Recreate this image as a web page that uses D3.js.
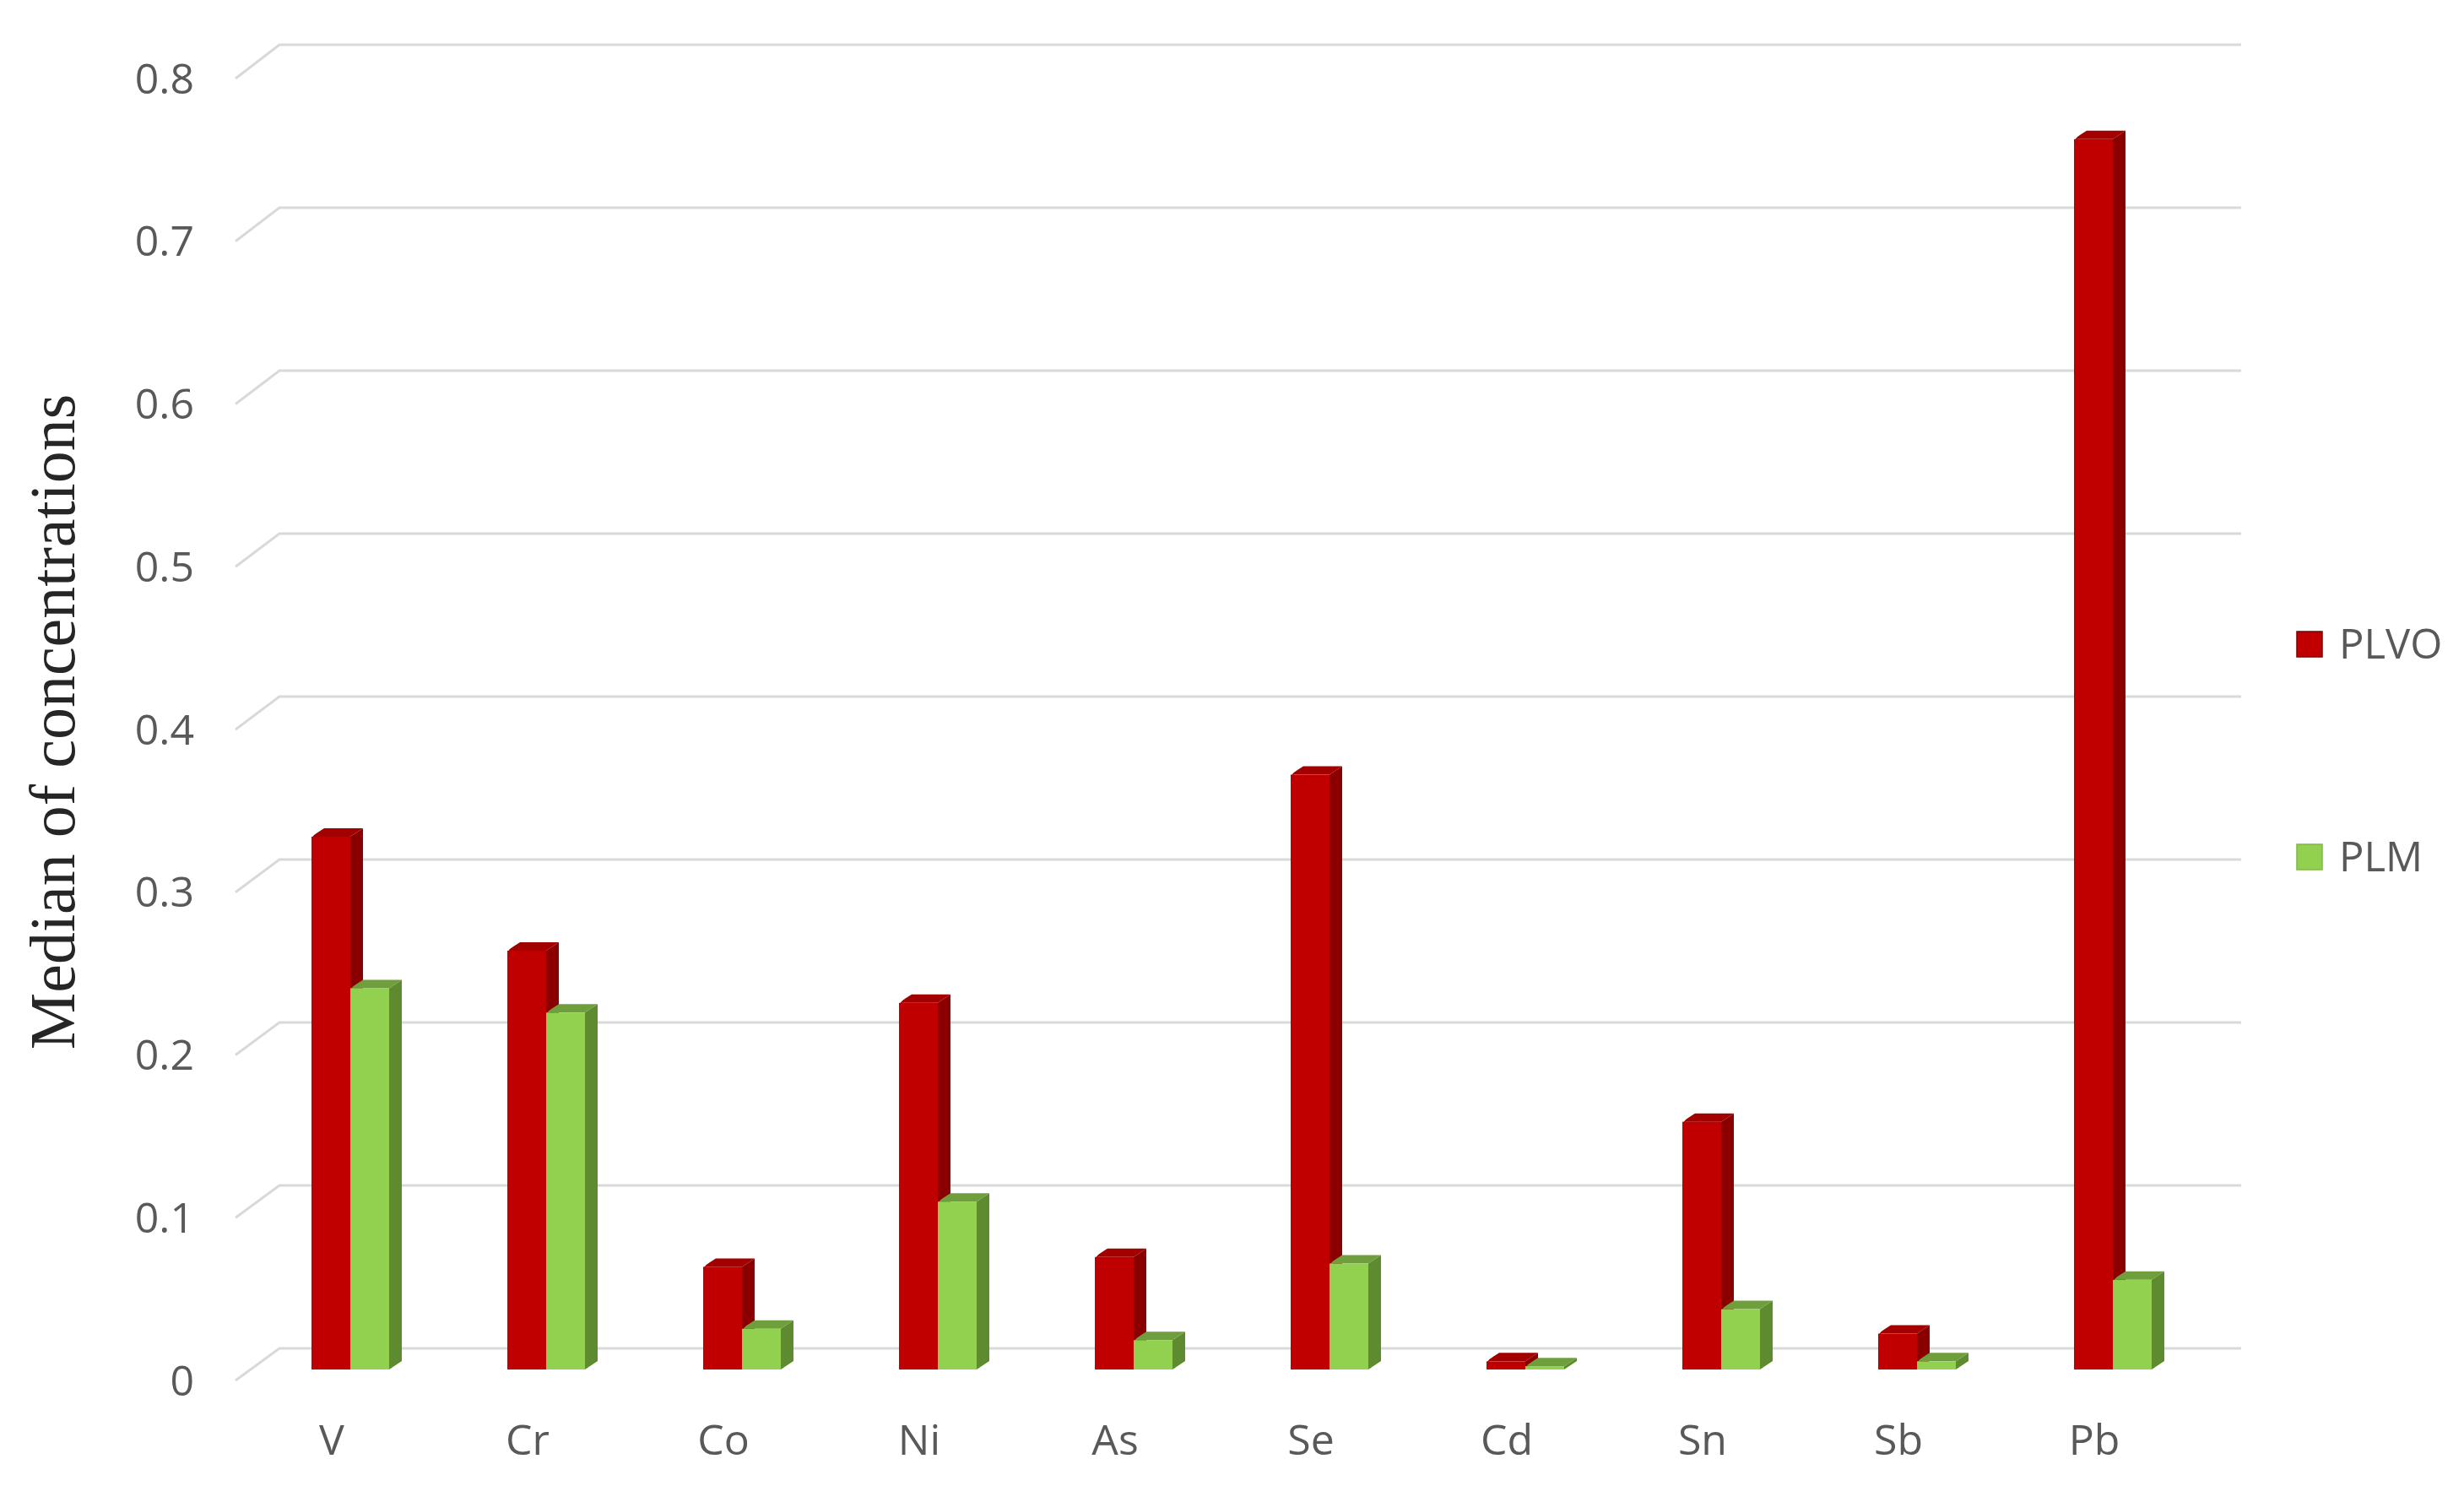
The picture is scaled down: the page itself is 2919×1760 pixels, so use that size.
<!DOCTYPE html>
<html>
<head>
<meta charset="utf-8">
<script src="https://cdn.jsdelivr.net/npm/d3@7/dist/d3.min.js"></script>
<style>
  html, body { margin: 0; padding: 0; background: #ffffff; }
  svg { display: block; }
</style>
</head>
<body>
<svg id="chart" width="2919" height="1760"></svg>
<script>
// ---- data ----
const categories = ["V", "Cr", "Co", "Ni", "As", "Se", "Cd", "Sn", "Sb", "Pb"];
const seriesNames = ["PLVO", "PLM"];
const plvo = [0.327, 0.257, 0.063, 0.225, 0.069, 0.365, 0.005, 0.152, 0.022, 0.755];
const plm  = [0.234, 0.219, 0.025, 0.103, 0.018, 0.065, 0.002, 0.037, 0.005, 0.055];
const yTicks = [0, 0.1, 0.2, 0.3, 0.4, 0.5, 0.6, 0.7, 0.8];
const yTitle = "Median of concentrations";

// ---- styles ----
const colors = {
  PLVO: { front: "#C00000", side: "#8A0000", top: "#A30000" },
  PLM:  { front: "#92D050", side: "#5E8A30", top: "#6F9F3C" }
};
const depthX = 15, depthY = -10;

const svg = d3.select("#chart");

// scales
const x = d3.scaleBand().domain(categories).range([277, 2597]).padding(0);
const xs = d3.scaleBand().domain(seriesNames).range([-24, 68]).padding(0);
const yBack = d3.scaleLinear().domain([0, 0.8]).range([1597, 53]);   // back wall
const yFront = d3.scaleLinear().domain([0, 0.8]).range([1635, 93]);  // front edge (labels)
const yBar = d3.scaleLinear().domain([0, 0.8]).range([1622, 1622 - 0.8 * 1930]);
const wallLeft = 331, wallRight = 2655, frontLeft = 279;

// gridlines
const grid = svg.append("g").attr("fill", "none").attr("stroke", "#D9D9D9").attr("stroke-width", 3);
grid.selectAll("path").data(yTicks).join("path")
  .attr("d", d => `M${frontLeft},${yFront(d)}L${wallLeft},${yBack(d)}L${wallRight},${yBack(d)}`);

// y tick labels
svg.append("g").selectAll("text").data(yTicks).join("text")
  .attr("x", 230).attr("y", d => yFront(d))
  .attr("dy", "0.35em")
  .attr("text-anchor", "end")
  .attr("font-family", "'Open Sans', 'Noto Sans', sans-serif")
  .attr("font-size", 50)
  .attr("fill", "#595959")
  .text(d => d3.format("")(d));

// y title
svg.append("text")
  .attr("transform", `translate(88,855) rotate(-90)`)
  .attr("text-anchor", "middle")
  .attr("font-family", "'Liberation Serif', 'Times New Roman', serif")
  .attr("font-size", 76)
  .attr("fill", "#262626")
  .text(yTitle);

// x labels
svg.append("g").selectAll("text").data(categories).join("text")
  .attr("x", d => x(d) + x.bandwidth() / 2)
  .attr("y", 1723)
  .attr("text-anchor", "middle")
  .attr("font-family", "'Open Sans', 'Noto Sans', sans-serif")
  .attr("font-size", 50)
  .attr("fill", "#595959")
  .text(d => d);

// bars
const barData = [];
categories.forEach((c, i) => {
  barData.push({ cat: c, s: "PLVO", v: plvo[i] });
  barData.push({ cat: c, s: "PLM", v: plm[i] });
});

const bars = svg.append("g");
barData.forEach(d => {
  const cx = x(d.cat) + x.bandwidth() / 2;
  const x0 = cx + xs(d.s), x1 = x0 + xs.bandwidth();
  const yb = yBar(0), yt = yBar(d.v);
  const col = colors[d.s];
  const g = bars.append("g");
  // side face
  g.append("path")
    .attr("d", `M${x1},${yb}L${x1 + depthX},${yb + depthY}L${x1 + depthX},${yt + depthY}L${x1},${yt}Z`)
    .attr("fill", col.side);
  // top face (with a small bevel on the front-left corner)
  g.append("path")
    .attr("d", `M${x0},${yt + 2}Q${x0 + 3},${yt - 3} ${x0 + 8},${yt + depthY * 0.55}L${x0 + depthX},${yt + depthY}L${x1 + depthX},${yt + depthY}L${x1},${yt}L${x0 + 4},${yt}Z`)
    .attr("fill", col.top);
  // front face
  g.append("rect")
    .attr("x", x0).attr("y", yt)
    .attr("width", x1 - x0).attr("height", Math.max(0, yb - yt))
    .attr("fill", col.front);
});

// legend
const legendY = d3.scalePoint().domain(seriesNames).range([763, 1015]);
const lg = svg.append("g").selectAll("g").data(seriesNames).join("g")
  .attr("transform", d => `translate(2721,${legendY(d)})`);
lg.append("rect")
  .attr("x", 0).attr("y", -15).attr("width", 30).attr("height", 30)
  .attr("fill", d => colors[d].front)
  .attr("stroke", d => d === "PLVO" ? "#7A0000" : "#7FB843")
  .attr("stroke-width", 1.5);
lg.append("text")
  .attr("x", 50).attr("y", 0).attr("dy", "0.35em")
  .attr("font-family", "'Open Sans', 'Noto Sans', sans-serif")
  .attr("font-size", 49)
  .attr("fill", "#595959")
  .text(d => d);
</script>
</body>
</html>
